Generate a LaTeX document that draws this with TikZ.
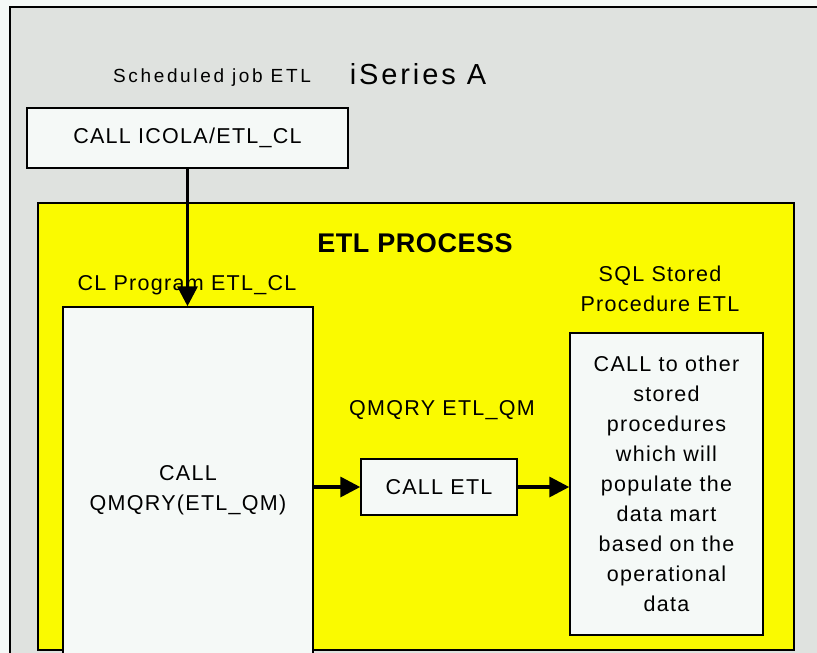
\documentclass[tikz,border=0pt]{standalone}
\usepackage{fontspec}
\setmainfont{Liberation Sans}
\newfontfamily\wideA[LetterSpace=6]{Liberation Sans}
\newfontfamily\wideB[LetterSpace=14]{Liberation Sans}
\newfontfamily\wideC[LetterSpace=10]{Liberation Sans}
\newfontfamily\wideD[LetterSpace=2]{Liberation Sans}
\usetikzlibrary{arrows.meta}
\definecolor{bgc}{HTML}{F5F9F7}
\definecolor{grayc}{HTML}{DFE2DF}
\definecolor{yel}{HTML}{FAFA00}
\definecolor{boxc}{HTML}{F5F9F7}
\tikzset{
  box/.style={draw=black, line width=1.5pt, fill=boxc, rectangle, inner sep=0pt, align=center, font=\wideA\fontsize{21.5}{30}\selectfont},
  lbl/.style={inner sep=0pt, align=center, font=\wideA\fontsize{21.5}{30}\selectfont},
  flow/.style={line width=3.5pt, -{Triangle[length=20pt,width=20pt]}}
}
\begin{document}
\begin{tikzpicture}[x=1pt,y=-1pt]
\useasboundingbox (0,0) rectangle (817,653);
\clip (0,0) rectangle (817,653);
\fill[bgc] (0,0) rectangle (817,653);
\draw[line width=1.5pt, fill=grayc] (10,7) rectangle (840,680);
\draw[line width=1.5pt, fill=yel] (38,203) rectangle (794,650);
\node[lbl, font=\wideB\fontsize{19}{22}\selectfont] (schedlbl) at (212,78) {Scheduled job ETL};
\node[lbl, font=\wideC\fontsize{29}{32}\selectfont] (iseries) at (418,74) {iSeries A};
\node[box, minimum width=321pt, minimum height=60pt] (sched) at (187.5,138) {CALL ICOLA/ETL\_CL};
\node[lbl, font=\wideD\bfseries\fontsize{27}{30}\selectfont] (etlproc) at (415,243) {ETL PROCESS};
\node[lbl] (cllbl) at (187,285) {CL Program ETL\_CL};
\node[box, minimum width=250pt, minimum height=366pt] (clprog) at (188,490) {CALL\\QMQRY(ETL\_QM)};
\node[lbl] (qmlbl) at (442,410) {QMQRY ETL\_QM};
\node[box, minimum width=156pt, minimum height=56pt] (etl) at (439,487) {CALL ETL};
\node[lbl] (sqllbl) at (660,289) {SQL Stored\\Procedure ETL};
\node[box, minimum width=193pt, minimum height=302pt] (sql) at (666.5,484) {CALL to other\\stored\\procedures\\which will\\populate the\\data mart\\based on the\\operational\\data};
\draw[flow] (sched.south) -- (sched.south |- clprog.north);
\draw[flow] (clprog.east |- etl.west) -- (etl.west);
\draw[flow] (etl.east) -- (sql.west |- etl.east);
\end{tikzpicture}
\end{document}
